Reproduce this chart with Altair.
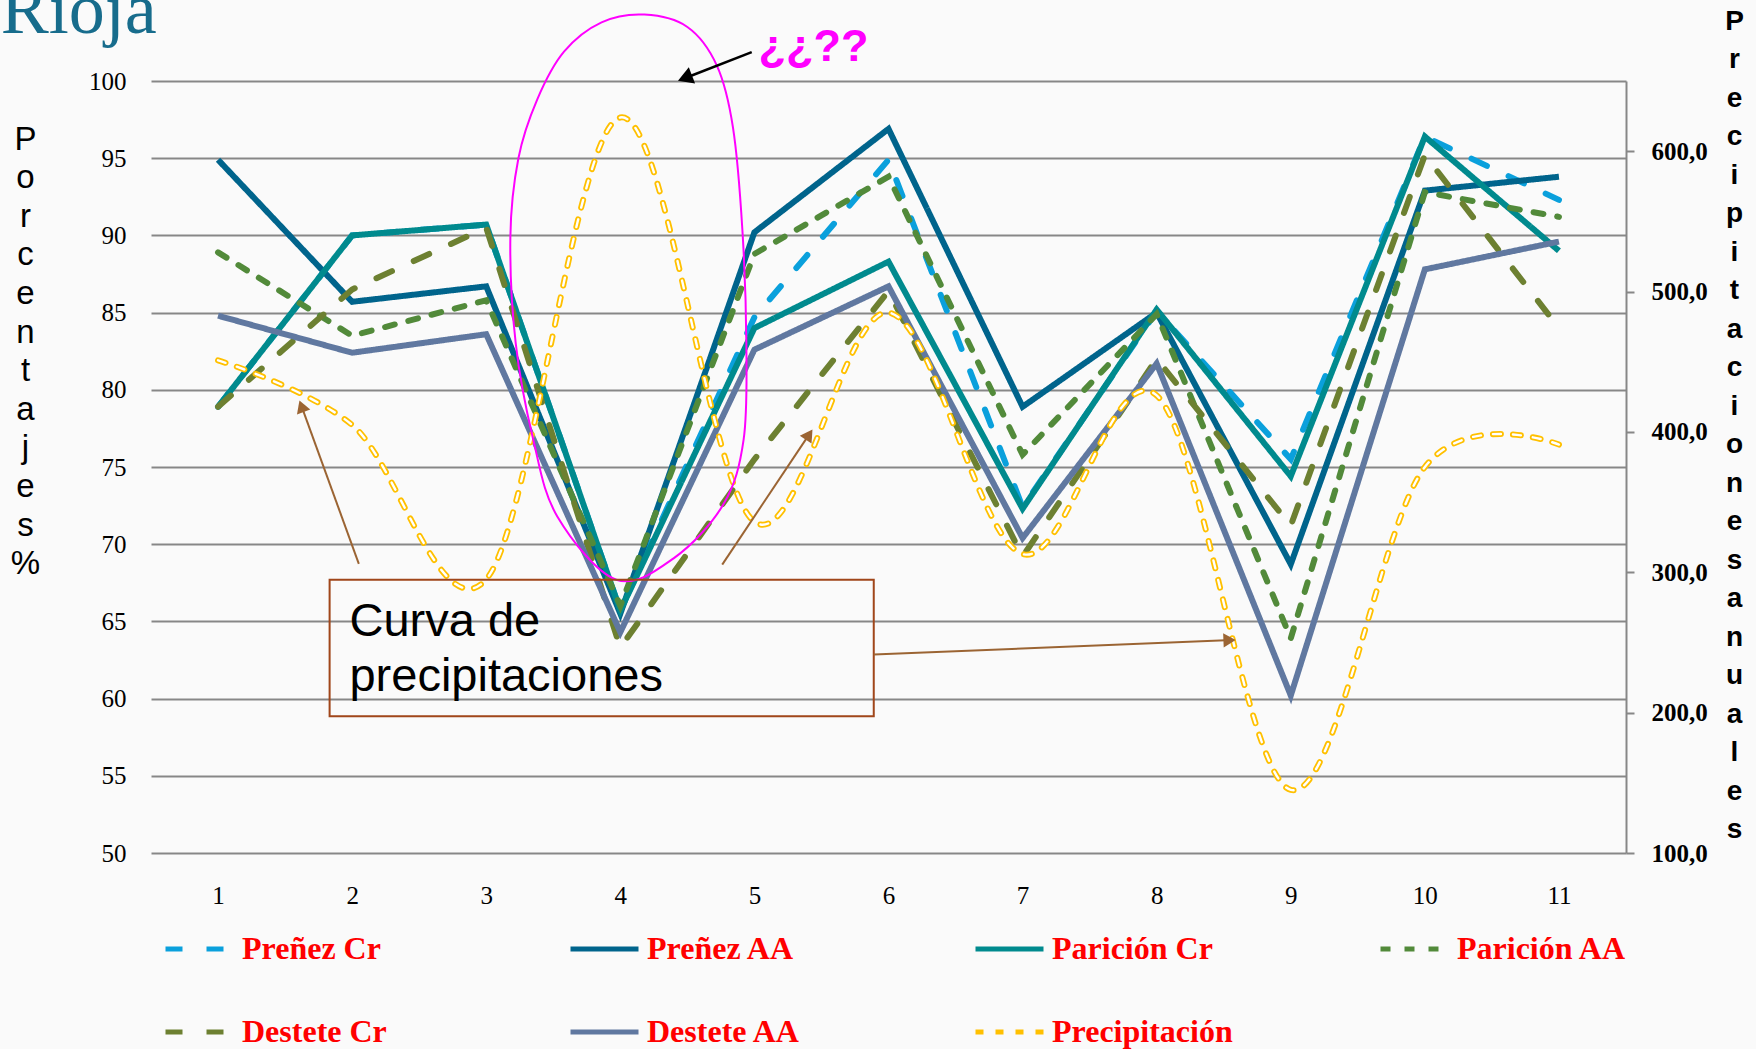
import math
import altair as alt
import pandas as pd

# ---------------- data ----------------
years = list(range(1, 12))
prenez_cr = [78.9, 90.0, 90.7, 65.7, 84.7, 94.9, 72.4, 85.1, 75.5, 96.4, 92.3]
prenez_aa = [94.9, 85.7, 86.7, 65.5, 90.2, 96.9, 78.9, 85.0, 68.7, 92.9, 93.8]
paricion_cr = [78.9, 90.0, 90.7, 65.7, 84.0, 88.3, 72.3, 85.2, 74.4, 96.4, 89.0]
paricion_aa = [88.9, 83.5, 85.8, 66.0, 88.8, 93.8, 75.8, 84.9, 63.9, 92.8, 91.2]
destete_cr = [78.9, 86.5, 90.5, 63.3, 75.5, 86.4, 69.2, 82.0, 71.2, 95.2, 84.0]
destete_aa = [84.8, 82.4, 83.6, 64.3, 82.6, 86.7, 70.4, 81.7, 60.2, 87.8, 89.6]
precipitacion = [451, 405, 295, 624, 336, 485, 313, 426, 145, 375, 391]

series_names = ["Preñez Cr", "Preñez AA", "Parición Cr", "Parición AA",
                "Destete Cr", "Destete AA", "Precipitación"]
series_colors = ["#0AA0DC", "#00648C", "#008A8E", "#528A3A",
                 "#6D8031", "#6078A0", "#FFC000"]
series_dashes = [[17, 24], [1, 0], [1, 0], [10, 14], [17, 24], [1, 0], [8, 12]]

left_ticks = [50, 55, 60, 65, 70, 75, 80, 85, 90, 95, 100]
right_ticks = [100, 200, 300, 400, 500, 600]

# annotations (in data units: x = year axis, y = percentage axis)
ellipse_x = [4.18, 4.50, 4.72, 4.84, 4.91, 4.94, 4.92, 4.77, 4.40, 3.97, 3.53, 3.35, 3.22, 3.18, 3.24, 3.38, 3.58, 3.86]
ellipse_y = [104.3, 103.5, 101.0, 97.0, 90.4, 83.0, 76.8, 72.6, 69.1, 67.7, 71.8, 76.8, 83.0, 89.9, 95.0, 98.8, 101.9, 103.8]

black_arrow_tail = (4.98, 101.87)
black_arrow_tip = (4.43, 100.01)
brown_tails = [(2.05, 68.73), (4.76, 68.68), (5.89, 62.85)]
brown_tips = [(1.607, 79.31), (5.433, 77.43), (8.589, 63.80)]

box_x = [1.832, 5.890]
box_y = [67.70, 58.86]

# ---------------- layout ----------------
W, H = 1475, 772
X_DOMAIN = [0.5, 11.5]
Y_DOMAIN = [50, 100]
P_DOMAIN = [100, 650]
PX = W / (X_DOMAIN[1] - X_DOMAIN[0])
PY = H / (Y_DOMAIN[1] - Y_DOMAIN[0])
GRID = "#878787"
LW = 6

rows = []
for name, vals in zip(series_names[:6], [prenez_cr, prenez_aa, paricion_cr,
                                          paricion_aa, destete_cr, destete_aa]):
    for yr, v in zip(years, vals):
        rows.append({"series": name, "x": yr, "y": v})
pct_df = pd.DataFrame(rows)
precip_df = pd.DataFrame({"series": ["Precipitación"] * len(years), "x": years, "p": precipitacion})

x_scale = alt.Scale(domain=X_DOMAIN, nice=False, zero=False)
x_axis = alt.Axis(values=years, format="d", grid=False, domain=False, ticks=False, tickSize=0,
                  labelFont="Liberation Serif", labelFontSize=25, labelColor="black",
                  labelPadding=50, labelBaseline="alphabetic", labelFlush=False, labelOverlap=False)


def X(field="x"):
    return alt.X(f"{field}:Q", scale=x_scale, axis=x_axis, title=None)


y_scale = alt.Scale(domain=Y_DOMAIN, nice=False, zero=False)
y_axis = alt.Axis(values=left_ticks, grid=True, gridColor=GRID, gridWidth=2, domain=False,
                  ticks=False, tickSize=0, labelFont="Liberation Serif", labelFontSize=25,
                  labelColor="black", labelPadding=25, labelFlush=False, labelOverlap=False,
                  title=list("Porcentajes%"), titleFont="Liberation Sans", titleFontSize=33,
                  titleFontWeight="normal", titleColor="black", titleAngle=0,
                  titleAlign="center", titleBaseline="top", titleLineHeight=38.6,
                  titleX=-126, titleY=42)
Y_left = alt.Y("y:Q", scale=y_scale, axis=y_axis)

p_axis = alt.Axis(orient="right", values=right_ticks,
                  labelExpr="replace(format(datum.value, '.1f'), '.', ',')",
                  grid=False, domain=True, domainColor=GRID, domainWidth=2,
                  ticks=True, tickSize=8, tickColor=GRID, tickWidth=2,
                  labelFont="Liberation Serif", labelFontWeight="bold", labelFontSize=25,
                  labelColor="black", labelPadding=17, labelAlign="left",
                  labelFlush=False, labelOverlap=False,
                  title=list("Precipitacionesanuales"), titleFont="Liberation Sans",
                  titleFontWeight="bold", titleFontSize=28, titleColor="black",
                  titleAngle=0, titleAlign="center", titleBaseline="top",
                  titleLineHeight=38.5, titleX=108, titleY=-74)
P_enc = alt.Y("p:Q", scale=alt.Scale(domain=P_DOMAIN, nice=False, zero=False), axis=p_axis)

legend = alt.Legend(title=None, orient="none", legendX=12, legendY=852, direction="horizontal",
                    columns=4, gridAlign="all", columnPadding=145, rowPadding=51, clipHeight=32,
                    symbolType="stroke", symbolSize=4624, symbolStrokeWidth=5,
                    labelFont="Liberation Serif", labelFontSize=32, labelFontWeight="bold",
                    labelColor="#FF0000", labelOffset=6, labelLimit=400, padding=0)
color_enc = alt.Color("series:N", scale=alt.Scale(domain=series_names, range=series_colors), legend=legend)
dash_enc = alt.StrokeDash("series:N", scale=alt.Scale(domain=series_names, range=series_dashes), legend=legend)

# ---------------- percentage lines ----------------
pct_layers = []
for i, name in enumerate(series_names[:6]):
    cap = "butt" if series_dashes[i] == [1, 0] else "round"
    pct_layers.append(
        alt.Chart(pct_df).transform_filter(alt.datum.series == name)
        .mark_line(strokeWidth=LW, strokeCap=cap, strokeJoin="miter")
        .encode(x=X(), y=Y_left, color=color_enc, strokeDash=dash_enc)
    )
left_group = alt.layer(*pct_layers)

# ---------------- precipitation (right axis) ----------------
precip_outer = alt.Chart(precip_df).mark_line(strokeWidth=6, strokeCap="round", interpolate="cardinal").encode(
    x=X(), y=P_enc, color=color_enc, strokeDash=dash_enc)
precip_inner = alt.Chart(precip_df).mark_line(strokeWidth=2.4, strokeCap="round", interpolate="cardinal",
                                              color="white", strokeDash=[8, 12]).encode(x=X(), y=P_enc)
right_group = alt.layer(precip_outer, precip_inner)

# ---------------- annotations ----------------
Y_ann = alt.Y("y:Q", scale=alt.Scale(domain=Y_DOMAIN, nice=False, zero=False), axis=None)


def arrow_rows(tails, tips, size):
    h = 0.866 * math.sqrt(size) / 2
    seg, head = [], []
    for (tx, ty), (px, py) in zip(tails, tips):
        dx = (px - tx) * PX
        dy = (py - ty) * PY
        L = math.hypot(dx, dy)
        ux, uy = dx / L, dy / L
        ang = math.degrees(math.atan2(dx, dy)) % 360
        cx = px - ux * h / PX
        cy = py - uy * h / PY
        ex = px - ux * 1.6 * h / PX
        ey = py - uy * 1.6 * h / PY
        seg.append({"x": tx, "y": ty, "x2": ex, "y2": ey})
        head.append({"x": cx, "y": cy, "angle": ang})
    return pd.DataFrame(seg), pd.DataFrame(head)


bseg, bhead = arrow_rows([black_arrow_tail], [black_arrow_tip], 300)
rseg, rhead = arrow_rows(brown_tails, brown_tips, 200)

ellipse_df = pd.DataFrame({"i": list(range(len(ellipse_x))), "x": ellipse_x, "y": ellipse_y})
ellipse = alt.Chart(ellipse_df).mark_line(interpolate="cardinal-closed", color="#FF00FF", strokeWidth=2).encode(
    x=X(), y=Y_ann, order="i:Q")


def rules(df, color, width):
    return alt.Chart(df).mark_rule(color=color, strokeWidth=width).encode(
        x=X(), y=Y_ann, x2="x2:Q", y2="y2:Q")


def heads(df, color, size):
    return alt.Chart(df).mark_point(shape="triangle-up", filled=True, opacity=1, color=color, size=size).encode(
        x=X(), y=Y_ann, angle=alt.Angle("angle:Q", scale=None))


box_df = pd.DataFrame({"x": [box_x[0]], "x2": [box_x[1]], "y": [box_y[0]], "y2": [box_y[1]]})
box = alt.Chart(box_df).mark_rect(fill="transparent", stroke="#A0461A", strokeWidth=2).encode(
    x=X(), x2="x2:Q", y=Y_ann, y2="y2:Q")


def text_layer(txt, x, y, size, font, color, weight="normal"):
    df = pd.DataFrame({"x": [x], "y": [y], "t": [txt]})
    return alt.Chart(df).mark_text(align="left", baseline="alphabetic", fontSize=size, font=font,
                                   color=color, fontWeight=weight).encode(x=X(), y=Y_ann, text="t:N")


texts = [
    text_layer("Rioja", -0.62, 103.1, 72, "Liberation Serif", "#176C8C"),
    text_layer("¿¿??", 5.03, 101.27, 45, "Liberation Sans", "#FF00FF", "bold"),
    text_layer("Curva de", 1.98, 64.03, 47, "Liberation Sans", "black"),
    text_layer("precipitaciones", 1.98, 60.47, 47, "Liberation Sans", "black"),
]

ann_group = alt.layer(
    ellipse,
    box,
    rules(rseg, "#9B6433", 2), heads(rhead, "#9B6433", 200),
    rules(bseg, "black", 2.5), heads(bhead, "black", 300),
    *texts,
)

chart = (
    alt.layer(left_group, right_group, ann_group)
    .resolve_scale(y="independent")
    .properties(width=W, height=H,
                padding={"left": 151, "top": 81, "right": 130, "bottom": 196},
                autosize=alt.AutoSizeParams(type="none"),
                background="#FAFAFA")
    .configure_view(stroke=None)
)

chart.save("out.html", embed_options={"renderer": "svg", "actions": False})
